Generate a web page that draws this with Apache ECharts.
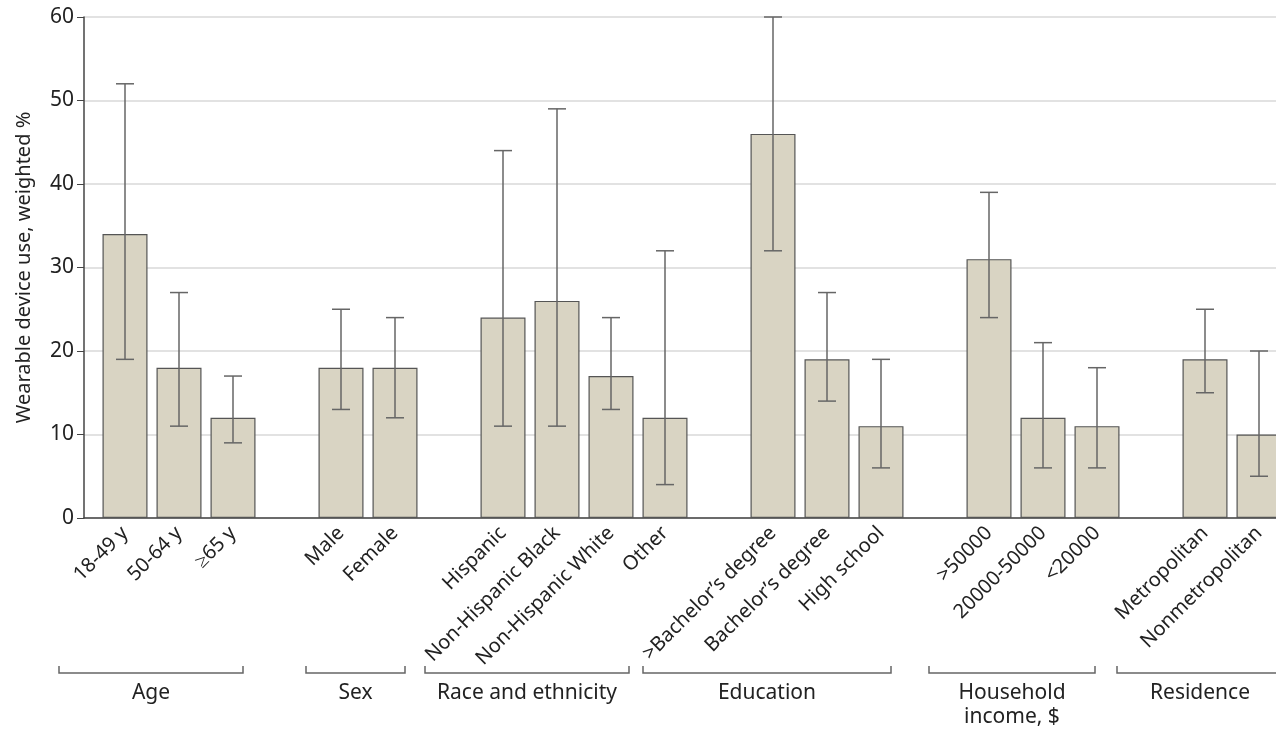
<!DOCTYPE html>
<html>
<head>
<meta charset="utf-8">
<script src="https://cdn.jsdelivr.net/npm/echarts@6/dist/echarts.min.js"></script>
<style>
  html, body { margin: 0; padding: 0; background: #fff; }
  #main { width: 1276px; height: 734px; }
</style>
</head>
<body>
<div id="main"></div>
<script>
// data
var groupNames = ['Age', 'Sex', 'Race and ethnicity', 'Education', 'Household\nincome, $', 'Residence'];
var groupSizes = [3, 2, 4, 3, 3, 2];
var categories = ['18-49 y', '50-64 y', '≥65 y', 'Male', 'Female',
    'Hispanic', 'Non-Hispanic Black', 'Non-Hispanic White', 'Other',
    '>Bachelor’s degree', 'Bachelor’s degree', 'High school',
    '>50000', '20000-50000', '<20000', 'Metropolitan', 'Nonmetropolitan'];
var values = [34, 18, 12, 18, 18, 24, 26, 17, 12, 46, 19, 11, 31, 12, 11, 19, 10];
var lower  = [19, 11, 9, 13, 12, 11, 11, 13, 4, 32, 14, 6, 24, 6, 6, 15, 5];
var upper  = [52, 27, 17, 25, 24, 44, 49, 24, 32, 60, 27, 19, 39, 21, 18, 25, 20];

// bracket padding (px) around the first / last category of each group
var bracketPad = [[-66, 10], [-35, 10], [-78, -36], [-130, 10], [-60, -2], [-88, 24]];

var chart = echarts.init(document.getElementById('main'));
var font = 'Noto Sans';

// build the category axis with an empty slot between groups
var axisCats = [], barData = [], errData = [], groupIdx = [];
var k = 0;
groupSizes.forEach(function (n, g) {
    if (g > 0) {
        axisCats.push('gap' + g);
        barData.push(null);
    }
    var first = axisCats.length;
    for (var j = 0; j < n; j++) {
        axisCats.push(categories[k]);
        barData.push(values[k]);
        errData.push([axisCats.length - 1, lower[k], upper[k]]);
        k++;
    }
    groupIdx.push([first, axisCats.length - 1]);
});

option = {
    animation: false,
    textStyle: { fontFamily: font },
    grid: [
        { left: 84, right: 0, top: 17, bottom: 216, outerBoundsMode: 'none' },
        { left: 98, width: 1188, top: 17, bottom: 216, outerBoundsMode: 'none' }
    ],
    xAxis: [{
        type: 'value', gridIndex: 0, min: 0, max: 1,
        axisLine: { show: true, lineStyle: { color: '#444', width: 1.5 } },
        axisTick: { show: false }, axisLabel: { show: false }, splitLine: { show: false }
    }, {
        type: 'category', gridIndex: 1, data: axisCats,
        axisLine: { show: false }, axisTick: { show: false },
        axisLabel: {
            interval: 0, rotate: 45, margin: 12,
            fontSize: 20, color: '#222', fontFamily: font,
            formatter: function (v) { return v.indexOf('gap') === 0 ? '' : v; }
        }
    }],
    yAxis: [{
        type: 'value', gridIndex: 0, min: 0, max: 60, interval: 10,
        name: 'Wearable device use, weighted %',
        nameLocation: 'middle', nameGap: 50,
        nameTextStyle: { fontSize: 20, color: '#222', fontFamily: font },
        axisLine: { show: true, lineStyle: { color: '#444', width: 1.5 } },
        axisTick: { show: true, length: 7, lineStyle: { color: '#444' } },
        axisLabel: { fontSize: 21, color: '#222', margin: 10, fontFamily: font },
        splitLine: { show: true, lineStyle: { color: '#e2e2e2', width: 2 } }
    }, {
        type: 'value', gridIndex: 1, min: 0, max: 60, show: false
    }],
    series: [{
        type: 'bar',
        xAxisIndex: 1, yAxisIndex: 1,
        data: barData,
        barWidth: 45,
        itemStyle: { color: '#d9d4c3', borderColor: '#555', borderWidth: 1.2 }
    }, {
        type: 'custom',
        xAxisIndex: 1, yAxisIndex: 1,
        data: errData,
        encode: { x: 0, y: [1, 2] },
        z: 5,
        renderItem: function (params, api) {
            var lo = api.coord([api.value(0), api.value(1)]);
            var hi = api.coord([api.value(0), api.value(2)]);
            var w = 9;
            var st = { stroke: '#666', lineWidth: 1.5 };
            return {
                type: 'group',
                children: [
                    { type: 'line', shape: { x1: lo[0], y1: lo[1], x2: hi[0], y2: hi[1] }, style: st },
                    { type: 'line', shape: { x1: lo[0] - w, y1: lo[1], x2: lo[0] + w, y2: lo[1] }, style: st },
                    { type: 'line', shape: { x1: hi[0] - w, y1: hi[1], x2: hi[0] + w, y2: hi[1] }, style: st }
                ]
            };
        }
    }]
};
chart.setOption(option);

// group brackets and their names under the rotated labels
var lineY = 673, tickH = 7;
var graphics = [];
groupIdx.forEach(function (r, g) {
    var x1 = chart.convertToPixel({ xAxisIndex: 1 }, r[0]) + bracketPad[g][0];
    var x2 = chart.convertToPixel({ xAxisIndex: 1 }, r[1]) + bracketPad[g][1];
    graphics.push({
        type: 'polyline',
        shape: { points: [[x1, lineY - tickH], [x1, lineY], [x2, lineY], [x2, lineY - tickH]] },
        style: { stroke: '#666', lineWidth: 1.5, fill: null }
    });
    graphics.push({
        type: 'text',
        x: (x1 + x2) / 2, y: lineY + 8,
        style: {
            text: groupNames[g], fill: '#222', font: '21px "' + font + '"',
            align: 'center', verticalAlign: 'top', lineHeight: 24
        }
    });
});
chart.setOption({ graphic: graphics });
</script>
</body>
</html>
